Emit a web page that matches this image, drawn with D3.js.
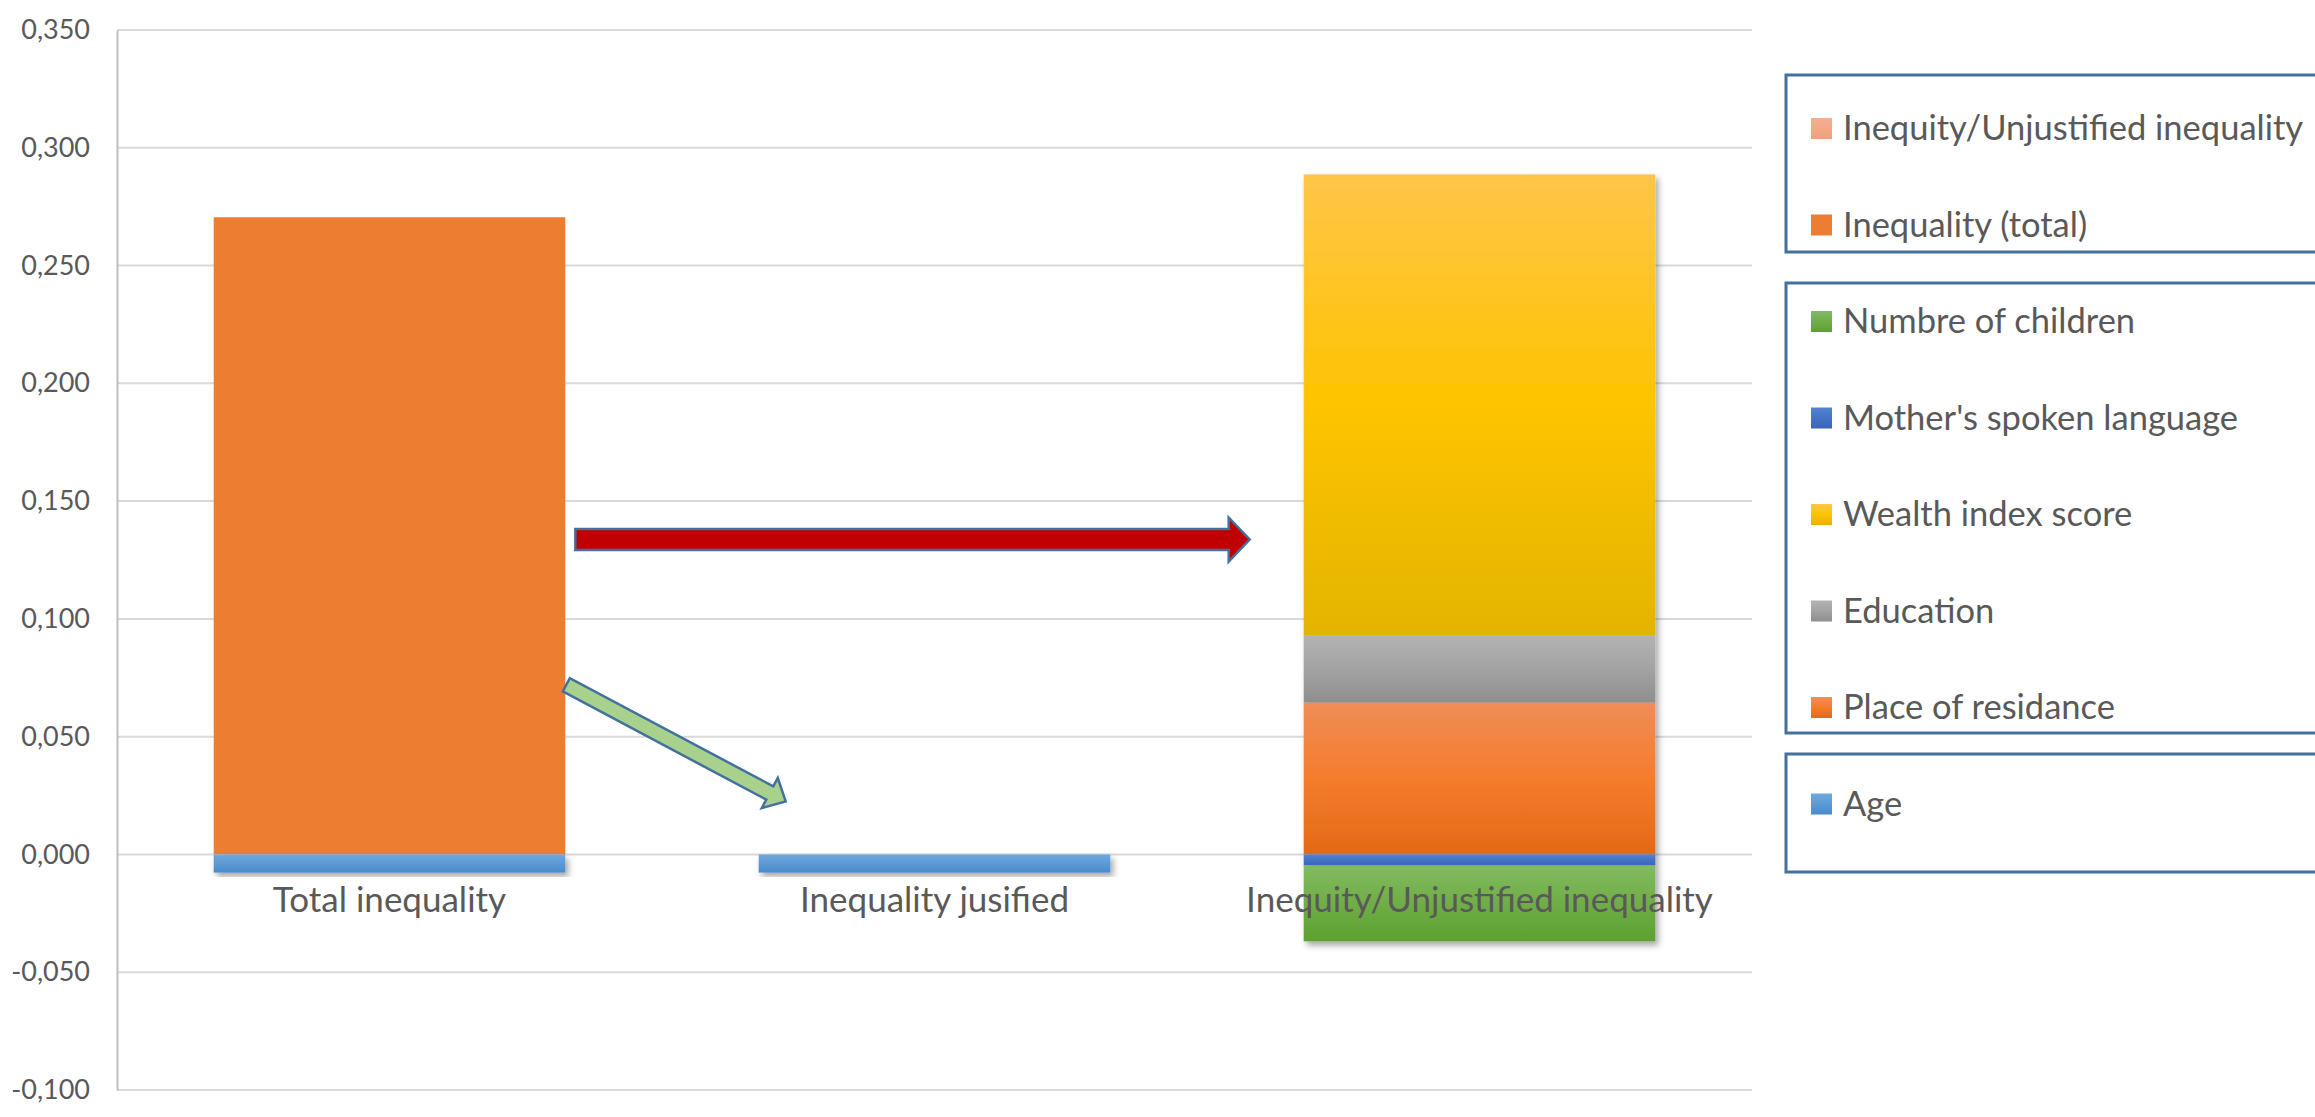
<!DOCTYPE html>
<html>
<head>
<meta charset="utf-8">
<script src="https://cdn.jsdelivr.net/npm/d3@7/dist/d3.min.js"></script>
<style>
  body { margin: 0; background: #fff; }
  text { font-family: Lato, "Open Sans", sans-serif; fill: #595959; }
</style>
</head>
<body>
<script>
// categories and series, stacked in Excel order (legend shows them reversed)
var categories = ["Total inequality", "Inequality jusified", "Inequity/Unjustified inequality"]
var seriesNames = ["Age", "Place of residance", "Education", "Wealth index score",
    "Mother's spoken language", "Numbre of children", "Inequality (total)", "Inequity/Unjustified inequality"]

var age = [-0.0077, -0.0077, 0]
var residence = [0, 0, 0.0645]
var education = [0, 0, 0.0286]
var wealth = [0, 0, 0.1956]
var language = [0, 0, -0.0047]
var children = [0, 0, -0.0322]
var inequalityTotal = [0.2705, 0, 0]
var inequity = [0, 0, 0]

var yTicks = [-0.1, -0.05, 0, 0.05, 0.1, 0.15, 0.2, 0.25, 0.3, 0.35]

// gradient stops per series (top, middle, bottom)
var seriesColors = {
    "Age": ["#6ea8df", "#5b9bd5", "#478bcf"],
    "Place of residance": ["#f08d57", "#f47c2c", "#e36915"],
    "Education": ["#b3b3b3", "#a3a3a3", "#8e8e8e"],
    "Wealth index score": ["#ffc548", "#fec400", "#e3b400"],
    "Mother's spoken language": ["#5383d4", "#4472c4", "#3a66b9"],
    "Numbre of children": ["#82bb60", "#70ad47", "#5da12f"],
    "Inequality (total)": ["#ed7d31", "#ed7d31", "#ed7d31"],
    "Inequity/Unjustified inequality": ["#f5ae92", "#f4a886", "#ef9f7c"]
}
var noShadow = ["Inequality (total)"]

var W = 2315, H = 1117
var plot = { left: 117, right: 1752, top: 30, bottom: 1090 }

var svg = d3.select("body").append("svg")
    .attr("width", W)
    .attr("height", H)

var defs = svg.append("defs")
seriesNames.forEach(function (s, i) {
    var g = defs.append("linearGradient")
        .attr("id", "grad" + i)
        .attr("x1", 0).attr("y1", 0).attr("x2", 0).attr("y2", 1)
    seriesColors[s].forEach(function (c, j) {
        g.append("stop").attr("offset", j * 50 + "%").attr("stop-color", c)
    })
})
var shadow = defs.append("filter").attr("id", "shadow")
    .attr("x", "-10%").attr("y", "-10%").attr("width", "130%").attr("height", "130%")
shadow.append("feDropShadow")
    .attr("dx", 3).attr("dy", 4).attr("stdDeviation", 3)
    .attr("flood-color", "#000").attr("flood-opacity", 0.35)

var xScale = d3.scaleBand()
    .domain(categories)
    .range([plot.left, plot.right])
    .paddingInner(0.55 / 1.55)
    .paddingOuter(0.55 / 1.55 / 2)

var yScale = d3.scaleLinear()
    .domain([-0.1, 0.35])
    .range([plot.bottom, plot.top])

var locale = d3.formatLocale({ decimal: ",", thousands: ".", grouping: [3], currency: ["", ""], minus: "-" })
var fmt = locale.format(".3f")

// gridlines
svg.append("g")
    .selectAll("line")
    .data(yTicks)
    .join("line")
    .attr("x1", plot.left)
    .attr("x2", plot.right)
    .attr("y1", d => yScale(d))
    .attr("y2", d => yScale(d))
    .attr("stroke", "#d9d9d9")
    .attr("stroke-width", 2)

// y axis
var yAxis = svg.append("g")
    .attr("transform", "translate(" + plot.left + ",0)")
    .call(d3.axisLeft(yScale).tickValues(yTicks).tickFormat(fmt).tickSize(0).tickPadding(27))
yAxis.select(".domain").attr("stroke", "#bfbfbf").attr("stroke-width", 2)
yAxis.selectAll("text")
    .attr("fill", "#595959")
    .style("font-size", "27px")

// stacked bars
var rows = categories.map(function (c, i) {
    return {
        cat: c,
        "Age": age[i],
        "Place of residance": residence[i],
        "Education": education[i],
        "Wealth index score": wealth[i],
        "Mother's spoken language": language[i],
        "Numbre of children": children[i],
        "Inequality (total)": inequalityTotal[i],
        "Inequity/Unjustified inequality": inequity[i]
    }
})
var stacked = d3.stack().keys(seriesNames).offset(d3.stackOffsetDiverging)(rows)

categories.forEach(function (c, i) {
    var plain = svg.append("g")
    var shaded = svg.append("g").attr("filter", "url(#shadow)")
    stacked.forEach(function (layer, k) {
        var d = layer[i]
        if (d[1] - d[0] === 0) return
        var target = noShadow.indexOf(layer.key) >= 0 ? plain : shaded
        target.append("rect")
            .attr("x", xScale(c))
            .attr("width", xScale.bandwidth())
            .attr("y", yScale(d[1]))
            .attr("height", yScale(d[0]) - yScale(d[1]))
            .attr("fill", "url(#grad" + k + ")")
    })
})

// category labels
svg.append("g")
    .selectAll("text")
    .data(categories)
    .join("text")
    .attr("x", d => xScale(d) + xScale.bandwidth() / 2)
    .attr("y", 912)
    .attr("text-anchor", "middle")
    .style("font-size", "35px")
    .text(d => d)

// annotation arrows
function arrowPath(x0, y0, x1, y1, shaftW, headW, headL) {
    var dx = x1 - x0, dy = y1 - y0
    var len = Math.sqrt(dx * dx + dy * dy)
    var ux = dx / len, uy = dy / len, nx = -uy, ny = ux
    var pts = [
        [0, shaftW / 2], [len - headL, shaftW / 2], [len - headL, headW / 2], [len, 0],
        [len - headL, -headW / 2], [len - headL, -shaftW / 2], [0, -shaftW / 2]
    ]
    return "M" + pts.map(p => [x0 + ux * p[0] + nx * p[1], y0 + uy * p[0] + ny * p[1]].join(",")).join("L") + "Z"
}
var bw = xScale.bandwidth()
svg.append("path")
    .attr("d", arrowPath(xScale(categories[0]) + bw + 10, yScale(0.1337),
        xScale(categories[2]) - 54, yScale(0.1337), 21, 44, 21))
    .attr("fill", "#c00000")
    .attr("stroke", "#41719c")
    .attr("stroke-width", 2.5)
svg.append("path")
    .attr("d", arrowPath(xScale(categories[0]) + bw + 1, yScale(0.072),
        xScale(categories[1]) + 27, yScale(0.0225), 15, 34, 18))
    .attr("fill", "#a9d18e")
    .attr("stroke", "#41719c")
    .attr("stroke-width", 2.5)

// legend (reverse order, split into three boxes)
var legendItems = seriesNames.slice().reverse()
var legendX = 1811, legendTop = 128, legendStep = 96.5
var legendBoxes = [[75, 252], [283, 733], [754, 872]]

svg.append("g")
    .selectAll("rect")
    .data(legendBoxes)
    .join("rect")
    .attr("x", 1786)
    .attr("y", d => d[0])
    .attr("width", 600)
    .attr("height", d => d[1] - d[0])
    .attr("fill", "none")
    .attr("stroke", "#41719c")
    .attr("stroke-width", 3)

var legend = svg.append("g")
    .selectAll("g")
    .data(legendItems)
    .join("g")
    .attr("transform", (d, i) => "translate(" + legendX + "," + (legendTop + i * legendStep) + ")")
legend.append("rect")
    .attr("x", 0)
    .attr("y", -10)
    .attr("width", 21)
    .attr("height", 21)
    .attr("fill", d => "url(#grad" + seriesNames.indexOf(d) + ")")
legend.append("text")
    .attr("x", 32)
    .attr("y", 12)
    .style("font-size", "34.5px")
    .text(d => d)
</script>
</body>
</html>
